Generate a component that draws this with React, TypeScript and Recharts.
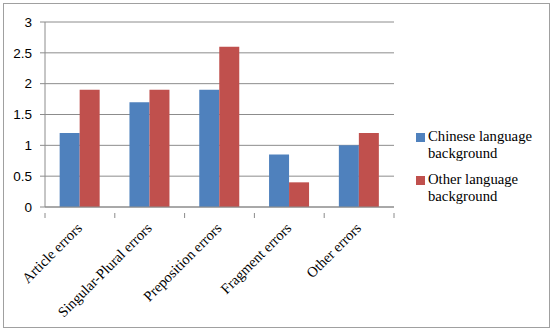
import React from "react";
import { BarChart, Bar, XAxis, YAxis, CartesianGrid } from "recharts";

const categories = ["Article errors", "Singular-Plural errors", "Preposition errors", "Fragment errors", "Other errors"];
const chineseValues = [1.2, 1.7, 1.9, 0.85, 1.0];
const otherValues = [1.9, 1.9, 2.6, 0.4, 1.2];
const yTicks = [0, 0.5, 1, 1.5, 2, 2.5, 3];
const seriesNames = ["Chinese language background", "Other language background"];
const seriesLines = [["Chinese language", "background"], ["Other language", "background"]];
const seriesColors = ["#4F81BD", "#C0504D"];

const data = categories.map((c, i) => ({ name: c, chinese: chineseValues[i], other: otherValues[i] }));

const GRAY = "#8c8c8c";

const XTick = (props: any) => {
  const { x, y, payload, index, visibleTicksCount } = props;
  const half = payload && payload.offset ? payload.offset : 35;
  return (
    <g>
      <line x1={x - half} x2={x - half} y1={y - 2} y2={y + 3} stroke={GRAY} />
      {index === (visibleTicksCount ?? 5) - 1 ? (
        <line x1={x + half} x2={x + half} y1={y - 2} y2={y + 3} stroke={GRAY} />
      ) : null}
      <text
        x={x + 3}
        y={y + 14}
        textAnchor="end"
        transform={`rotate(-45, ${x + 3}, ${y + 14})`}
        fontFamily="'Liberation Serif', 'Times New Roman', serif"
        fontSize={14.5}
        fill="#000"
      >
        {payload.value}
      </text>
    </g>
  );
};

export default function App() {
  return (
    <div style={{ position: "absolute", left: 0, top: 0, width: 555, height: 329, background: "#fff" }}>
      <div style={{ position: "absolute", left: 3, top: 3, width: 545, height: 323, border: "1px solid #a0a0a0" }} />
      <div style={{ position: "absolute", left: 0, top: 0 }}>
        <BarChart
          width={555}
          height={329}
          data={data}
          margin={{ top: 22, right: 161, left: 0, bottom: 0 }}
          barCategoryGap="21%"
          barGap={0}
        >
          <CartesianGrid vertical={false} stroke={GRAY} strokeDasharray="" />
          <XAxis
            dataKey="name"
            interval={0}
            tickLine={false}
            axisLine={{ stroke: GRAY }}
            tick={<XTick />}
            height={122}
          />
          <YAxis
            width={45}
            domain={[0, 3]}
            ticks={yTicks}
            interval={0}
            tickSize={5}
            tickMargin={8}
            tickLine={{ stroke: GRAY }}
            axisLine={{ stroke: GRAY }}
            tick={{ fill: "#000", fontSize: 13.5, fontFamily: "'Liberation Sans', Arial, sans-serif" }}
          />
          <Bar dataKey="chinese" name={seriesNames[0]} fill={seriesColors[0]} isAnimationActive={false} />
          <Bar dataKey="other" name={seriesNames[1]} fill={seriesColors[1]} isAnimationActive={false} />
        </BarChart>
      </div>
      <div
        style={{
          position: "absolute",
          left: 416,
          top: 128,
          width: 135,
          fontFamily: "'Liberation Serif', 'Times New Roman', serif",
          fontSize: 14.7,
          color: "#000",
          lineHeight: "17px",
        }}
      >
        {seriesNames.map((n, i) => (
          <div key={n} style={{ display: "flex", alignItems: "flex-start", marginBottom: 9 }}>
            <div style={{ width: 9, height: 9, background: seriesColors[i], marginTop: 5, marginRight: 3, flexShrink: 0 }} />
            <div>
              {seriesLines[i].map((l, j) => (
                <div key={j}>{l}</div>
              ))}
            </div>
          </div>
        ))}
      </div>
    </div>
  );
}
